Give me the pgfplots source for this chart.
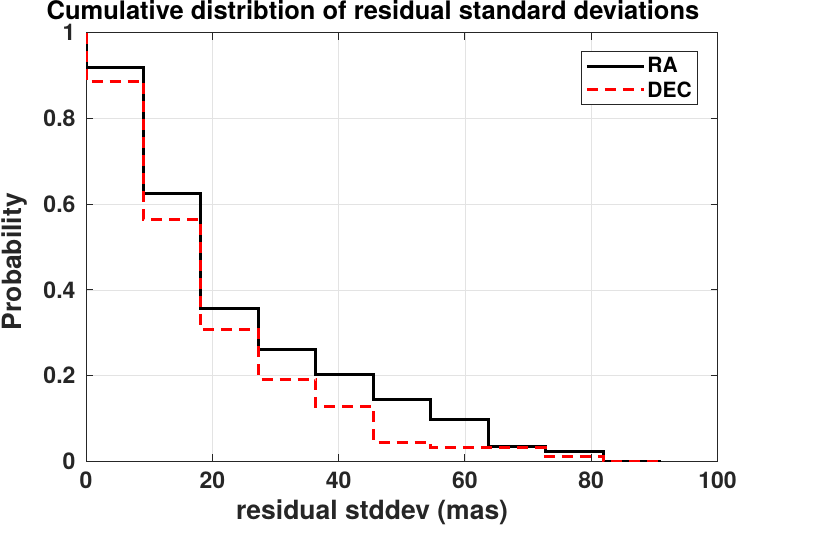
\documentclass[border=0pt]{standalone}
\usepackage{pgfplots}
\pgfplotsset{compat=1.18}
\usepackage{fontspec}
\setmainfont{TeX Gyre Heros}
\begin{document}
\begin{tikzpicture}[x=1pt,y=1pt]
\begin{axis}[
  at={(86pt,71.5pt)}, anchor=south west,
  scale only axis, width=631.5pt, height=428.8pt,
  xmin=0, xmax=100, ymin=0, ymax=1,
  xtick={0,20,...,100}, ytick={0,0.2,...,1},
  grid=major, grid style={black!11, line width=0.8pt},
  axis line style={black!85, line width=1pt},
  major tick length=7pt, tick style={black!85, line width=1pt},
  tick label style={font=\fontsize{23}{23}\selectfont\bfseries, text=black!85},
  xticklabel style={yshift=-7pt},
  yticklabel style={xshift=-7pt, inner ysep=1pt},
  /pgf/number format/assume math mode=true,
  xlabel={residual stddev (mas)}, ylabel={Probability},
  label style={font=\fontsize{26.5}{26.5}\selectfont\bfseries, text=black!85},
  xlabel style={at={(axis description cs:0.453,-0.1364)}, anchor=base},
  ylabel style={at={(axis description cs:-0.1018,0.466)}, anchor=base},
  legend style={at={(axis description cs:0.9696,0.957)}, anchor=north east,
    font=\fontsize{21}{21}\selectfont\bfseries, draw=black!85, line width=1pt,
    inner xsep=4pt, inner ysep=4pt, row sep=3pt},
  legend cell align=left,
  legend image code/.code={\draw[#1] (0pt,0pt) -- (57pt,0pt);},
]
\addplot[const plot, black, line width=3pt] coordinates {
  (0,1) (0,0.918) (9.1,0.624) (18.2,0.357) (27.3,0.261) (36.4,0.204)
  (45.5,0.145) (54.6,0.097) (63.7,0.035) (72.8,0.024) (81.9,0) (91,0)};
\addplot[const plot, red, line width=3pt, dash pattern=on 11pt off 7pt] coordinates {
  (0,1) (0,0.887) (9.1,0.565) (18.2,0.308) (27.3,0.192) (36.4,0.128)
  (45.5,0.045) (54.6,0.032) (63.7,0.032) (72.8,0.011) (81.9,0) (91,0)};
\legend{RA,DEC}
\end{axis}
\node[anchor=base, inner sep=0pt, font=\fontsize{25.5}{25.5}\selectfont\bfseries]
  at (373,513) {Cumulative distribtion of residual standard deviations};
\pgfresetboundingbox
\useasboundingbox (0,0) rectangle (830,533);
\end{tikzpicture}
\end{document}
